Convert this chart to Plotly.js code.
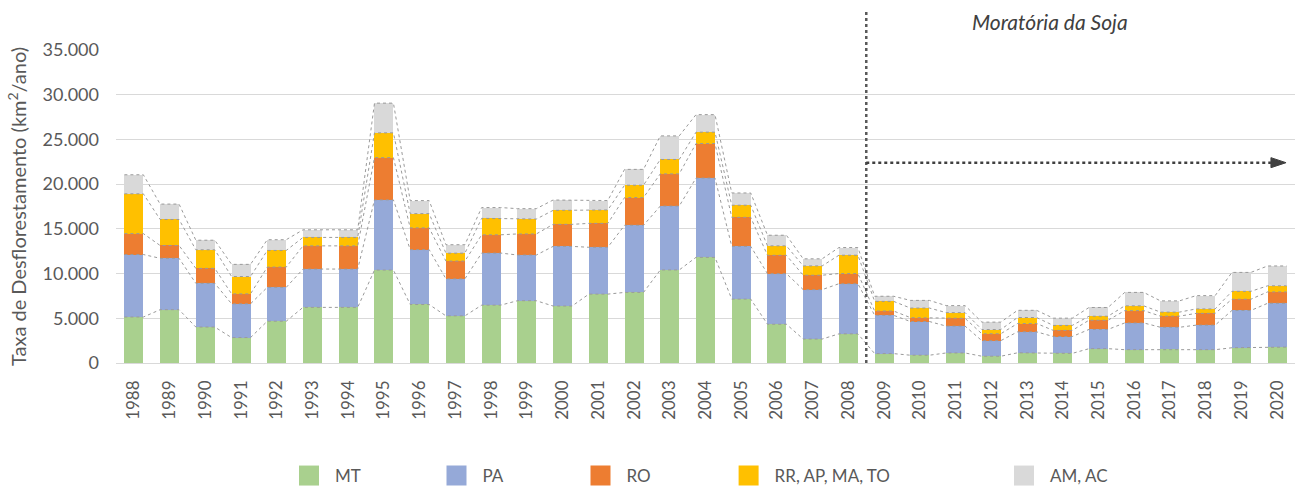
<!DOCTYPE html>
<html><head><meta charset="utf-8">
<script src="https://cdn.plot.ly/plotly-3.0.1.min.js"></script>
<style>html,body{margin:0;padding:0;background:#fff;} #chart{width:1297px;height:489px;}</style>
</head><body><div id="chart"></div>
<script>
const years = ['1988','1989','1990','1991','1992','1993','1994','1995','1996','1997','1998','1999','2000','2001','2002','2003','2004','2005','2006','2007','2008','2009','2010','2011','2012','2013','2014','2015','2016','2017','2018','2019','2020'];
const MT   = [5140,5960,4020,2840,4674,6220,6220,10391,6543,5271,6466,6963,6369,7703,7892,10405,11814,7145,4333,2678,3258,1049,871,1120,757,1139,1075,1601,1489,1561,1490,1702,1779];
const PA   = [6990,5750,4890,3780,3787,4284,4284,7845,6135,4139,5829,5111,6671,5237,7510,7145,8870,5899,5659,5526,5607,4281,3770,3008,1741,2346,1887,2153,2992,2433,2744,4172,4899];
const RO   = [2340,1430,1670,1110,2265,2595,2595,4730,2432,1986,2041,2358,2465,2673,3099,3597,3858,3244,2049,1611,1136,482,435,865,773,932,684,1030,1376,1243,1316,1257,1273];
const RRAPMATO = [4450,2910,2080,1940,1861,945,945,2771,1595,884,1841,1666,1562,1499,1381,1613,1270,1359,1059,1042,2052,1080,1070,643,472,670,557,447,535,452,497,882,682];
const AMAC = [2130,1720,1070,1360,1199,852,852,3322,1456,947,1206,1161,1159,1053,1768,2636,1960,1367,1186,794,858,572,854,782,828,804,809,976,1501,1258,1489,2116,2218];
const seriesNames = ['MT','PA','RO','RR, AP, MA, TO','AM, AC'];
const seriesValues = [MT, PA, RO, RRAPMATO, AMAC];
const seriesColors = ['#a9d08e','#95a9d8','#ed7d31','#ffc000','#d9d9d9'];
const yTicks = [0,5000,10000,15000,20000,25000,30000,35000];
const annotText = 'Moratória da Soja';
const moratoriaStart = '2009';
const arrowLevel = 22400;

const FONT = 'Lato, "Open Sans", sans-serif';
const xs = years.map((_, i) => i);
const W = 0.53;
const legendIds = ['legend','legend2','legend3','legend4','legend5'];
const legendLeft = [298, 445.5, 589.5, 737.6, 1013];

const traces = [];
seriesValues.forEach((vals, k) => {
  traces.push({
    type: 'bar', x: xs, y: vals, name: seriesNames[k], width: W,
    marker: {color: seriesColors[k], line: {width: 0}},
    legend: legendIds[k],
    hovertemplate: seriesNames[k] + ' %{customdata}: %{y}<extra></extra>',
    customdata: years
  });
});
// series connector lines (dotted) through cumulative tops
const cum = years.map(() => 0);
seriesValues.forEach((vals, k) => {
  const lx = [], ly = [];
  vals.forEach((v, i) => {
    cum[i] += v;
    lx.push(i - W / 2, i + W / 2);
    ly.push(cum[i], cum[i]);
  });
  traces.push({
    type: 'scatter', mode: 'lines', x: lx, y: ly, showlegend: false, hoverinfo: 'skip',
    line: {color: '#9a9a9a', width: 1, dash: 'dot'}
  });
});

const splitIdx = years.indexOf(moratoriaStart) - 0.5;
const splitPaper = (splitIdx + 0.5) / years.length;
const tipPaper = 0.9924, basePaper = 0.9796, headHalf = 560;

const layout = {
  width: 1297, height: 489,
  margin: {l: 116, r: 2, t: 50, b: 126},
  paper_bgcolor: '#fff', plot_bgcolor: '#fff',
  font: {family: FONT, color: '#595959'},
  separators: ',.',
  barmode: 'stack',
  showlegend: true,
  xaxis: {
    range: [-0.5, years.length - 0.5], tickvals: xs, ticktext: years, tickangle: -90,
    tickfont: {size: 17, color: '#595959'}, showgrid: false, zeroline: false, showline: false,
    ticks: '', ticklabelstandoff: 13, fixedrange: true
  },
  yaxis: {
    range: [0, 35000], tickvals: yTicks, tickformat: ',d', gridcolor: '#d9d9d9', gridwidth: 1,
    zeroline: true, zerolinecolor: '#d9d9d9', zerolinewidth: 1, showline: false, ticks: '',
    tickfont: {size: 18, color: '#595959'}, ticklabelstandoff: 16,
    title: {text: 'Taxa de Desflorestamento (km<sup>2</sup>/ano)', font: {size: 20, color: '#595959'}, standoff: 10},
    fixedrange: true
  },
  shapes: [
    {type: 'line', xref: 'paper', yref: 'paper', x0: splitPaper, x1: splitPaper, y0: 0, y1: 1.125,
     line: {color: '#595959', width: 2.5, dash: 'dot'}},
    {type: 'line', xref: 'paper', yref: 'y', x0: splitPaper, x1: basePaper, y0: arrowLevel, y1: arrowLevel,
     line: {color: '#404040', width: 2.5, dash: 'dot'}},
    {type: 'path', xref: 'paper', yref: 'y',
     path: 'M' + basePaper + ',' + (arrowLevel + headHalf) + ' L' + tipPaper + ',' + arrowLevel + ' L' + basePaper + ',' + (arrowLevel - headHalf) + ' Z',
     fillcolor: '#404040', line: {color: '#404040', width: 1}}
  ],
  annotations: [
    {xref: 'paper', yref: 'paper', x: 0.792, y: 1.09, text: annotText, showarrow: false,
     font: {family: FONT, size: 21, color: '#404040', style: 'italic'}, xanchor: 'center', yanchor: 'middle'}
  ]
};
legendIds.forEach((id, k) => {
  layout[id] = {
    orientation: 'h', xref: 'container', yref: 'container',
    x: (legendLeft[k] - 15) / 1297, y: 1 - 476 / 489, xanchor: 'left', yanchor: 'middle',
    font: {family: FONT, size: 17, color: '#595959'}, itemwidth: 42,
    bgcolor: 'rgba(0,0,0,0)', borderwidth: 0, itemclick: false, itemdoubleclick: false
  };
});

Plotly.newPlot('chart', traces, layout, {displayModeBar: false, staticPlot: true}).then(() => {
  document.querySelectorAll('.legendpoints path').forEach(p => p.setAttribute('d', 'M10,10H-10V-10H10Z'));
});
</script>
</body></html>
